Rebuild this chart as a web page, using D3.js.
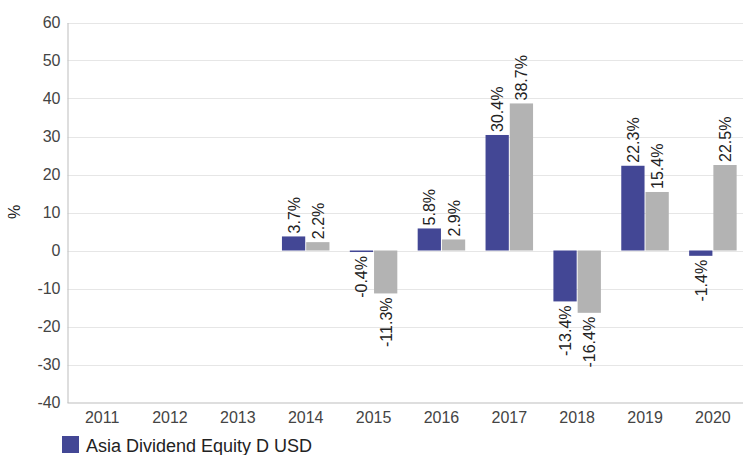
<!DOCTYPE html>
<html>
<head>
<meta charset="utf-8">
<script src="https://cdn.jsdelivr.net/npm/d3@7"></script>
<style>
  html, body { margin: 0; padding: 0; background: #fff; overflow: hidden; }
  svg { display: block; font-family: "Liberation Sans", Arial, sans-serif; }
</style>
</head>
<body>
<svg id="chart" width="743" height="455"></svg>
<script>
const years = ["2011","2012","2013","2014","2015","2016","2017","2018","2019","2020"];
const seriesNames = ["Asia Dividend Equity D USD", "Benchmark"];
const fundValues = [null, null, null, 3.7, -0.4, 5.8, 30.4, -13.4, 22.3, -1.4];
const benchValues = [null, null, null, 2.2, -11.3, 2.9, 38.7, -16.4, 15.4, 22.5];
const yTicks = [-40, -30, -20, -10, 0, 10, 20, 30, 40, 50, 60];
const colors = ["#434795", "#b3b3b3"];

const svg = d3.select("#chart");
const mLeft = 67.5, mRight = 747.5, mTop = 22.5, mBottom = 402.5;

const x0 = d3.scaleBand().domain(years).range([mLeft, mRight]).paddingInner(0.3).paddingOuter(0.16);
const x1 = d3.scaleBand().domain([0, 1]).range([0, x0.bandwidth()]).paddingInner(0.04);
const y = d3.scaleLinear().domain([-40, 60]).range([mBottom, mTop]);

// gridlines
svg.append("g").selectAll("line").data(yTicks.filter(d => d !== -40)).join("line")
  .attr("x1", mLeft).attr("x2", 743)
  .attr("y1", d => Math.round(y(d)) + 0.5).attr("y2", d => Math.round(y(d)) + 0.5)
  .attr("stroke", "#e6e6e6").attr("stroke-width", 1);

// y axis
const yAxis = svg.append("g").attr("transform", `translate(${mLeft},0)`)
  .call(d3.axisLeft(y).tickValues(yTicks).tickSize(0).tickPadding(7).tickFormat(d => String(d)));
yAxis.select(".domain").attr("stroke", "#bdbdbd");
yAxis.selectAll("text").attr("fill", "#444").style("font-size", "16px")
  .style("font-family", "'Liberation Sans', Arial, sans-serif");

// x axis
const xAxis = svg.append("g").attr("transform", `translate(0,${mBottom})`)
  .call(d3.axisBottom(x0).tickSize(0).tickPadding(9));
xAxis.select(".domain").attr("stroke", "#bdbdbd").attr("d", `M${mLeft},0.5H743`);
xAxis.selectAll("text").attr("fill", "#444").style("font-size", "16px")
  .style("font-family", "'Liberation Sans', Arial, sans-serif");

// y label
svg.append("text").attr("transform", "translate(20,212) rotate(-90)")
  .attr("text-anchor", "middle").attr("fill", "#222").style("font-size", "16px").text("%");

const data = [];
years.forEach((yr, i) => {
  [fundValues[i], benchValues[i]].forEach((v, s) => {
    if (v !== null) data.push({ year: yr, s, v });
  });
});

svg.append("g").selectAll("rect").data(data).join("rect")
  .attr("x", d => x0(d.year) + x1(d.s))
  .attr("width", x1.bandwidth())
  .attr("y", d => y(Math.max(0, d.v)))
  .attr("height", d => Math.abs(y(d.v) - y(0)))
  .attr("fill", d => colors[d.s]);

svg.append("g").selectAll("text").data(data).join("text")
  .attr("transform", d => {
    const cx = x0(d.year) + x1(d.s) + x1.bandwidth() / 2 + 6;
    const yy = d.v >= 0 ? y(d.v) - 3 : y(d.v) + 4;
    return `translate(${cx},${yy}) rotate(-90)`;
  })
  .attr("text-anchor", d => d.v >= 0 ? "start" : "end")
  .attr("fill", "#222").style("font-size", "16px")
  .text(d => d.v.toFixed(1) + "%");

// legend
const lg = svg.append("g");
lg.append("rect").attr("x", 62).attr("y", 436).attr("width", 17).attr("height", 17).attr("fill", colors[0]);
lg.append("text").attr("x", 86).attr("y", 452).attr("fill", "#222").style("font-size", "18px").text(seriesNames[0]);
</script>
</body>
</html>
